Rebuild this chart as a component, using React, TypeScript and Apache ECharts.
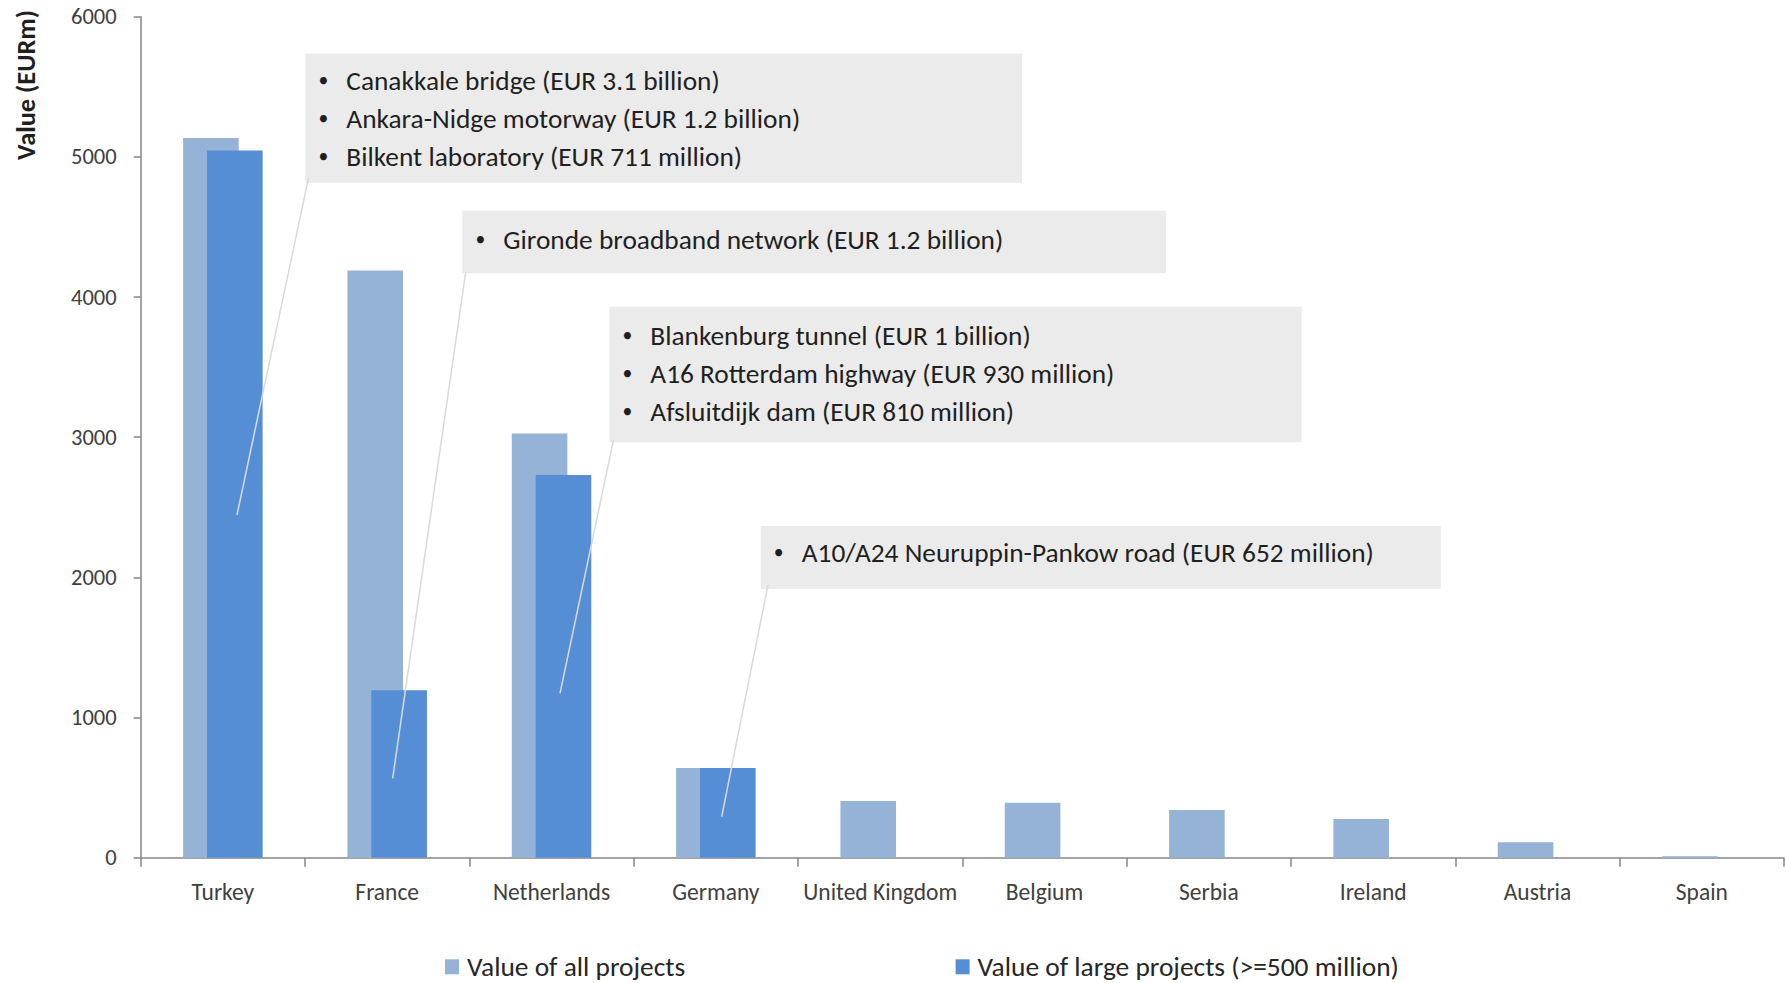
import React, { useEffect, useRef } from "react";
import * as echarts from "echarts";

// ---------- data ----------
const categories = [
  "Turkey",
  "France",
  "Netherlands",
  "Germany",
  "United Kingdom",
  "Belgium",
  "Serbia",
  "Ireland",
  "Austria",
  "Spain",
];
const allProjects = [5135, 4190, 3027, 640, 404, 392, 340, 276, 110, 10];
const largeProjects = [5045, 1195, 2730, 640, null, null, null, null, null, null];
const seriesNames = ["Value of all projects", "Value of large projects (>=500 million)"];
const yAxisTitle = "Value (EURm)";
const yMin = 0;
const yMax = 6000;
const yInterval = 1000;

const annotationTexts = [
  [
    "Canakkale bridge (EUR 3.1 billion)",
    "Ankara-Nidge motorway (EUR 1.2 billion)",
    "Bilkent laboratory (EUR 711 million)",
  ],
  ["Gironde broadband network (EUR 1.2 billion)"],
  [
    "Blankenburg tunnel (EUR 1 billion)",
    "A16 Rotterdam highway (EUR 930 million)",
    "Afsluitdijk dam (EUR 810 million)",
  ],
  ["A10/A24 Neuruppin-Pankow road (EUR 652 million)"],
];

// ---------- layout (pixels) ----------
const W = 1786;
const H = 983;
const boxLayout = [
  { x: 305.3, y: 53.5, w: 716.7, h: 129.2, firstLineY: 80, lead: [308.5, 178, 237, 515] },
  { x: 462.3, y: 210.7, w: 703.7, h: 62.6, firstLineY: 239, lead: [465.7, 272, 392.7, 778.3] },
  { x: 609.3, y: 306.7, w: 692.4, h: 135.6, firstLineY: 335, lead: [613.5, 440, 560, 693.3] },
  { x: 760.7, y: 526, w: 680, h: 63, firstLineY: 552, lead: [768, 585, 721.7, 816.7] },
];
const LINE_SPACING = 38;
const FONT = "Carlito, Lato, sans-serif";

function fitSize(text: string, target: number, weight = "normal") {
  const ctx = document.createElement("canvas").getContext("2d");
  if (!ctx) return 20;
  ctx.font = `${weight} 100px ${FONT}`;
  const w = ctx.measureText(text).width;
  return (100 * target) / w;
}

export default function App() {
  const ref = useRef<HTMLDivElement>(null);

  useEffect(() => {
    if (!ref.current) return;
    const chart = echarts.init(ref.current, null, { renderer: "svg" });

    const annSize = fitSize("A10/A24 Neuruppin-Pankow road (EUR 652 million)", 572.4);
    const legendSize = fitSize("Value of all projects", 218.3);
    const catSize = fitSize("Netherlands", 117.3);
    const tickSize = fitSize("6000", 45.7);
    const titleSize = fitSize(yAxisTitle, 150, "bold");

    const graphics: any[] = [];
    boxLayout.forEach((b, i) => {
      graphics.push({
        type: "rect",
        z: 100,
        shape: { x: b.x, y: b.y, width: b.w, height: b.h },
        style: { fill: "#EBEBEB" },
      });
      graphics.push({
        type: "line",
        z: 101,
        shape: { x1: b.lead[0], y1: b.lead[1], x2: b.lead[2], y2: b.lead[3] },
        style: { stroke: "#D9D9D9", lineWidth: 1.5 },
      });
      annotationTexts[i].forEach((t, j) => {
        const cy = b.firstLineY + j * LINE_SPACING;
        graphics.push({
          type: "text",
          z: 102,
          x: b.x + 18,
          y: cy,
          style: {
            text: "\u2022",
            align: "center",
            verticalAlign: "middle",
            fontSize: annSize * 0.72,
            fontFamily: FONT,
            fill: "#1F1F1F",
          },
        });
        graphics.push({
          type: "text",
          z: 102,
          x: b.x + 41,
          y: cy,
          style: {
            text: t,
            align: "left",
            verticalAlign: "middle",
            fontSize: annSize,
            fontFamily: FONT,
            fill: "#1F1F1F",
          },
        });
      });
    });
    graphics.push({
      type: "text",
      z: 102,
      x: 26,
      y: 85,
      rotation: Math.PI / 2,
      style: {
        text: yAxisTitle,
        align: "center",
        verticalAlign: "middle",
        fontSize: titleSize,
        fontWeight: "bold",
        fontFamily: FONT,
        fill: "#1F1F1F",
      },
    });

    const legendCommon = {
      orient: "horizontal",
      top: 951.8,
      padding: 0,
      itemWidth: 14,
      itemHeight: 15,
      icon: "rect",
      selectedMode: false,
      textStyle: {
        fontSize: legendSize,
        fontFamily: FONT,
        color: "#262626",
        lineHeight: 30,
        padding: [0, 0, 0, 3],
      },
    };

    chart.setOption({
      animation: false,
      backgroundColor: "#ffffff",
      textStyle: { fontFamily: FONT },
      grid: { left: 140.7, right: 2, top: 16.7, bottom: 125.3, containLabel: false },
      legend: [
        { ...legendCommon, left: 445, data: [seriesNames[0]] },
        { ...legendCommon, left: 955.6, data: [seriesNames[1]] },
      ],
      xAxis: {
        type: "category",
        data: categories,
        boundaryGap: true,
        axisLine: { show: true, lineStyle: { color: "#868686", width: 1.5 } },
        axisTick: { show: true, length: 9, alignWithLabel: false, lineStyle: { color: "#868686", width: 1.5 } },
        axisLabel: {
          color: "#404040",
          fontSize: catSize,
          fontFamily: FONT,
          margin: 23,
          lineHeight: catSize,
          interval: 0,
        },
        splitLine: { show: false },
      },
      yAxis: {
        type: "value",
        min: yMin,
        max: yMax,
        interval: yInterval,
        axisLine: { show: true, lineStyle: { color: "#868686", width: 1.5 } },
        axisTick: { show: true, length: 7, lineStyle: { color: "#868686", width: 1.5 } },
        axisLabel: {
          color: "#404040",
          fontSize: tickSize,
          fontFamily: FONT,
          margin: 24,
          formatter: (v: number) => String(v),
        },
        splitLine: { show: false },
      },
      series: [
        {
          name: seriesNames[0],
          type: "bar",
          data: allProjects,
          barWidth: 55.6,
          barGap: "-57%",
          itemStyle: { color: "#95B3D7" },
        },
        {
          name: seriesNames[1],
          type: "bar",
          data: largeProjects,
          barWidth: 55.6,
          barGap: "-57%",
          itemStyle: { color: "#558ED5" },
        },
      ],
      graphic: graphics,
    });

    return () => {
      chart.dispose();
    };
  }, []);

  return (
    <div
      ref={ref}
      style={{ position: "fixed", left: 0, top: 0, width: W, height: H, background: "#ffffff" }}
    />
  );
}
